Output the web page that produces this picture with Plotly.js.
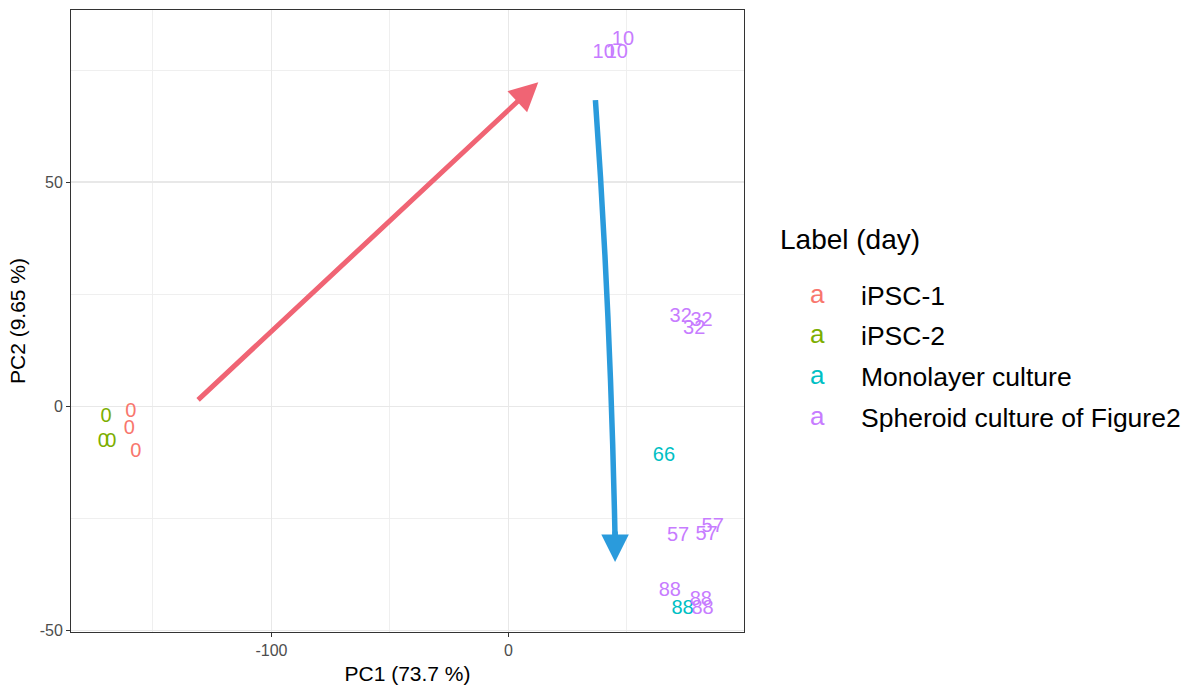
<!DOCTYPE html>
<html>
<head>
<meta charset="utf-8">
<script src="https://cdn.plot.ly/plotly-3.0.1.min.js"></script>
<style>html,body{margin:0;padding:0;background:#fff;}#chart{width:1183px;height:685px;}</style>
</head>
<body>
<div id="chart"></div>
<script>
// ---- data ----
const groups = ["iPSC-1", "iPSC-2", "Monolayer culture", "Spheroid culture of Figure2"];
const groupColors = ["#F8766D", "#7CAE00", "#00BFC4", "#C77CFF"];

const ipsc1PC1 = [-159.4, -160.0, -157.3];
const ipsc1PC2 = [-1.3, -5.0, -10.2];
const ipsc1Day = ["0", "0", "0"];

const ipsc2PC1 = [-169.8, -171.0, -167.8];
const ipsc2PC2 = [-2.4, -8.0, -8.0];
const ipsc2Day = ["0", "0", "0"];

const monoPC1 = [65.6, 73.5];
const monoPC2 = [-11.1, -45.2];
const monoDay = ["66", "88"];

const sphPC1 = [40.2, 45.7, 48.3, 72.7, 81.5, 78.4, 71.6, 83.6, 86.2, 68.1, 81.2, 81.9];
const sphPC2 = [78.9, 78.9, 81.6, 19.8, 19.0, 17.3, -29.0, -28.8, -27.0, -41.2, -43.3, -45.3];
const sphDay = ["10", "10", "10", "32", "32", "32", "57", "57", "57", "88", "88", "88"];

const xTitle = "PC1 (73.7 %)";
const yTitle = "PC2 (9.65 %)";
const legendTitle = "Label (day)";

// ---- build ----
const FONT = "Liberation Sans, Arial, Helvetica, sans-serif";
const series = [
  [ipsc1PC1, ipsc1PC2, ipsc1Day],
  [ipsc2PC1, ipsc2PC2, ipsc2Day],
  [monoPC1, monoPC2, monoDay],
  [sphPC1, sphPC2, sphDay]
];
const traces = series.map((s, i) => ({
  type: "scatter",
  mode: "text",
  x: s[0], y: s[1], text: s[2],
  name: groups[i],
  textposition: "middle center",
  textfont: {family: FONT, size: 20, color: groupColors[i]},
  showlegend: false,
  hoverinfo: "skip"
}));

const annotations = [];
// arrows (decorations)
const red = "#F06474", blue = "#2A9BDC";
annotations.push({xref: "x", yref: "y", axref: "x", ayref: "y",
  x: 12.6, y: 72.3, ax: -131.6, ay: 1.1, text: "", showarrow: true,
  arrowhead: 2, arrowsize: 1.15, arrowwidth: 5, arrowcolor: red});
annotations.push({xref: "x", yref: "y", x: 45.0, y: -34.8, ax: 0, ay: -32,
  text: "", showarrow: true, arrowhead: 2, arrowsize: 1.0, arrowwidth: 5.5, arrowcolor: blue});

// custom legend
const plotL = 71, plotR = 744, plotT = 10, plotB = 632;
const px2paperX = p => (p - plotL) / (plotR - plotL);
const px2paperY = p => (plotB - p) / (plotB - plotT);
annotations.push({xref: "paper", yref: "paper", x: px2paperX(778), y: px2paperY(240),
  xanchor: "left", yanchor: "middle", text: legendTitle, showarrow: false,
  font: {family: FONT, size: 28, color: "#000"}});
const rowY = [296, 336, 377, 418];
groups.forEach((g, i) => {
  annotations.push({xref: "paper", yref: "paper", x: px2paperX(817), y: px2paperY(rowY[i] - 2),
    xanchor: "center", yanchor: "middle", text: "a", showarrow: false,
    font: {family: FONT, size: 26, color: groupColors[i]}});
  annotations.push({xref: "paper", yref: "paper", x: px2paperX(859), y: px2paperY(rowY[i]),
    xanchor: "left", yanchor: "middle", text: g, showarrow: false,
    font: {family: FONT, size: 26.5, color: "#000"}});
});

const layout = {
  width: 1183, height: 685,
  margin: {l: plotL, r: 1183 - plotR, t: plotT, b: 685 - plotB},
  paper_bgcolor: "#fff", plot_bgcolor: "#fff",
  font: {family: FONT},
  showlegend: false,
  xaxis: {
    range: [-184.6, 99.4], tickvals: [-100, 0], ticktext: ["-100", "0"],
    showgrid: true, gridcolor: "#E8E8E8", gridwidth: 1.2,
    minor: {tickvals: [-150, -50, 50], showgrid: true, gridcolor: "#EDEDED", gridwidth: 0.9, ticks: ""},
    zeroline: false, showline: true, mirror: true, linecolor: "#333333", linewidth: 1,
    ticks: "outside", ticklen: 4, tickcolor: "#333333", tickwidth: 1,
    tickfont: {family: FONT, size: 16, color: "#4D4D4D"},
    title: {text: xTitle, font: {family: FONT, size: 21, color: "#000"}, standoff: 10}
  },
  yaxis: {
    range: [-50.4, 88.4], tickvals: [-50, 0, 50], ticktext: ["-50", "0", "50"],
    showgrid: true, gridcolor: "#E8E8E8", gridwidth: 1.2,
    minor: {tickvals: [-25, 25, 75], showgrid: true, gridcolor: "#EDEDED", gridwidth: 0.9, ticks: ""},
    zeroline: false, showline: true, mirror: true, linecolor: "#333333", linewidth: 1,
    ticks: "outside", ticklen: 4, tickcolor: "#333333", tickwidth: 1,
    tickfont: {family: FONT, size: 16, color: "#4D4D4D"},
    title: {text: yTitle, font: {family: FONT, size: 21, color: "#000"}, standoff: 8}
  },
  shapes: [{
    type: "path", xref: "x", yref: "y", layer: "above",
    path: "M 36.7,68.3 Q 43.1,20.6 45.0,-29.9",
    line: {color: blue, width: 5.5}
  }],
  annotations: annotations
};

Plotly.newPlot("chart", traces, layout, {staticPlot: true, displayModeBar: false});
</script>
</body>
</html>
